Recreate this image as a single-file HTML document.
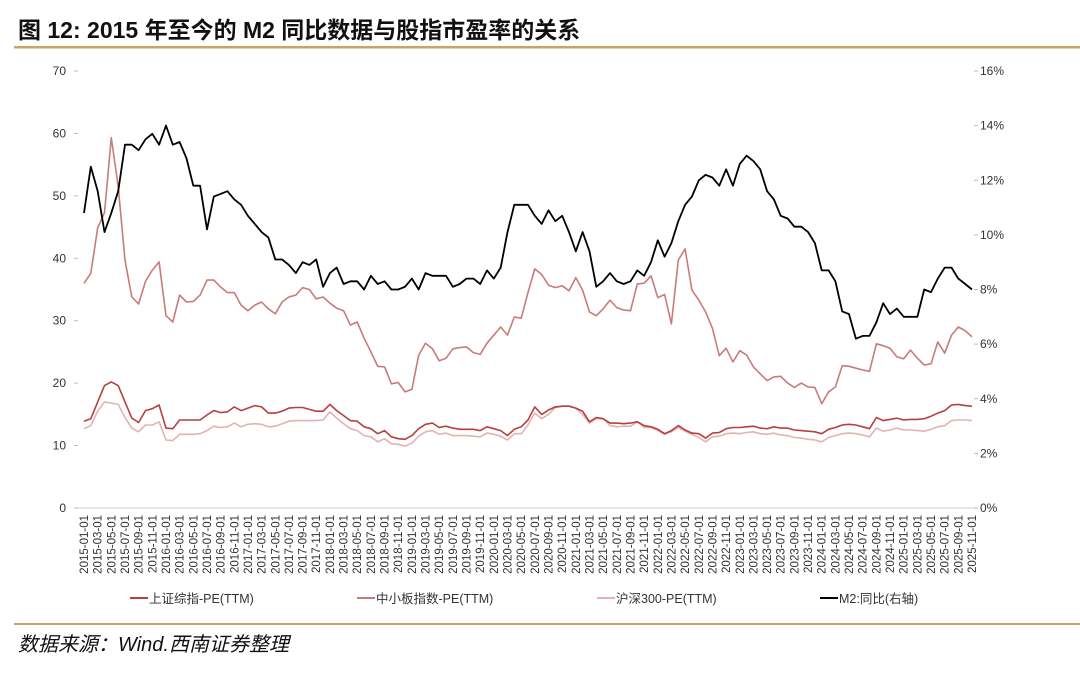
<!DOCTYPE html>
<html><head><meta charset="utf-8"><style>
body{margin:0;background:#fff;width:1080px;height:668px;overflow:hidden;font-family:"Liberation Sans","Noto Sans CJK SC",sans-serif}
</style></head><body>
<svg width="1080" height="668" xmlns="http://www.w3.org/2000/svg">
<text x="18" y="38" font-size="23" font-weight="bold" fill="#111" font-family="Liberation Sans,Noto Sans CJK SC,sans-serif">图 12:  2015 年至今的 M2 同比数据与股指市盈率的关系</text>
<rect x="14" y="46" width="1066" height="2.5" fill="#c9a46a"/>
<rect x="14" y="623" width="1066" height="2" fill="#c9a46a"/>
<text x="18" y="651" font-size="20" font-style="italic" fill="#111" font-family="Liberation Sans,Noto Sans CJK SC,sans-serif">数据来源：Wind.西南证券整理</text>
<g id="axes"></g>
<g id="plot"></g>
<g id="legend"></g>
</svg>
<script>
const categories=[];for(let y=2015;y<=2025;y++)for(let m=1;m<=12;m++){if(y===2025&&m>11)break;categories.push(y+'-'+String(m).padStart(2,'0')+'-01');}
const leftTicks=[0,10,20,30,40,50,60,70];
const rightTicks=[0,2,4,6,8,10,12,14,16];
const m2=[10.8,12.5,11.6,10.1,10.8,11.6,13.3,13.3,13.1,13.5,13.7,13.3,14.0,13.3,13.4,12.8,11.8,11.8,10.2,11.4,11.5,11.6,11.3,11.1,10.7,10.4,10.1,9.9,9.1,9.1,8.9,8.6,9.0,8.9,9.1,8.1,8.6,8.8,8.2,8.3,8.3,8.0,8.5,8.2,8.3,8.0,8.0,8.1,8.4,8.0,8.6,8.5,8.5,8.5,8.1,8.2,8.4,8.4,8.2,8.7,8.4,8.8,10.1,11.1,11.1,11.1,10.7,10.4,10.9,10.5,10.7,10.1,9.4,10.1,9.4,8.1,8.3,8.6,8.3,8.2,8.3,8.7,8.5,9.0,9.8,9.2,9.7,10.5,11.1,11.4,12.0,12.2,12.1,11.8,12.4,11.8,12.6,12.9,12.7,12.4,11.6,11.3,10.7,10.6,10.3,10.3,10.1,9.7,8.7,8.7,8.3,7.2,7.1,6.2,6.3,6.3,6.8,7.5,7.1,7.3,7.0,7.0,7.0,8.0,7.9,8.4,8.8,8.8,8.4,8.2,8.0];
const smePE=[36.0,37.6,44.9,47.3,59.3,51.5,39.7,33.8,32.7,36.3,38.1,39.4,30.8,29.8,34.1,33.0,33.1,34.1,36.5,36.5,35.4,34.5,34.5,32.5,31.6,32.5,33.0,31.9,31.1,33.0,33.8,34.1,35.3,35.0,33.5,33.8,32.8,32.0,31.6,29.3,29.8,27.2,25.0,22.7,22.6,19.9,20.1,18.6,19.0,24.5,26.4,25.5,23.6,24.0,25.5,25.7,25.8,24.9,24.6,26.4,27.7,29.0,27.7,30.6,30.4,34.5,38.3,37.4,35.7,35.3,35.6,34.8,36.9,34.9,31.4,30.8,31.9,33.3,32.1,31.7,31.6,35.9,36.0,37.2,33.7,34.2,29.5,39.7,41.5,34.9,33.3,31.4,28.8,24.4,25.6,23.4,25.2,24.5,22.6,21.5,20.4,21.0,21.1,20.0,19.3,20.0,19.4,19.3,16.7,18.6,19.4,22.8,22.7,22.4,22.1,21.9,26.3,26.0,25.6,24.2,23.9,25.3,24.0,22.9,23.1,26.6,24.8,27.7,29.0,28.4,27.4];
const shPE=[13.9,14.3,17.0,19.6,20.2,19.6,17.0,14.4,13.7,15.6,15.9,16.5,12.8,12.7,14.1,14.1,14.1,14.1,14.9,15.6,15.3,15.4,16.2,15.6,16.0,16.4,16.2,15.2,15.2,15.5,16.0,16.1,16.1,15.8,15.5,15.5,16.6,15.6,14.8,14.0,13.9,13.0,12.7,11.9,12.4,11.4,11.1,11.0,11.6,12.7,13.4,13.6,12.9,13.1,12.8,12.6,12.6,12.6,12.4,13.0,12.7,12.4,11.6,12.6,13.0,14.1,16.2,15.0,15.7,16.2,16.3,16.3,16.0,15.5,13.8,14.5,14.3,13.6,13.6,13.5,13.6,13.8,13.2,13.0,12.6,11.9,12.4,13.2,12.5,12.0,11.9,11.2,12.0,12.1,12.7,12.9,12.9,13.0,13.1,12.8,12.7,13.0,12.8,12.8,12.5,12.4,12.3,12.2,11.9,12.6,12.9,13.3,13.4,13.3,13.0,12.7,14.5,14.0,14.2,14.4,14.1,14.2,14.2,14.3,14.7,15.2,15.6,16.5,16.6,16.4,16.3];
const hs300PE=[12.7,13.2,15.5,17.0,16.8,16.6,14.5,12.8,12.2,13.3,13.3,13.8,10.9,10.8,11.8,11.8,11.8,11.9,12.4,13.1,12.9,13.0,13.6,13.0,13.4,13.5,13.4,13.0,13.1,13.5,13.9,14.0,14.0,14.0,14.0,14.1,15.4,14.4,13.5,12.7,12.4,11.6,11.4,10.6,11.1,10.3,10.2,9.9,10.4,11.5,12.2,12.4,11.8,12.0,11.6,11.6,11.6,11.5,11.4,12.0,11.8,11.5,10.9,11.9,11.9,13.3,15.2,14.3,15.0,16.1,16.3,16.3,16.0,15.0,13.6,14.3,14.3,13.2,13.0,13.1,13.1,13.8,12.9,12.9,12.4,11.8,12.2,12.9,12.3,11.8,11.3,10.6,11.4,11.5,11.9,12.0,11.9,12.1,12.2,11.9,11.8,12.0,11.7,11.6,11.3,11.2,11.0,10.9,10.6,11.3,11.6,11.9,12.0,11.9,11.7,11.4,12.8,12.3,12.5,12.8,12.5,12.5,12.4,12.3,12.6,13.0,13.2,14.0,14.1,14.1,14.0];

const NS='http://www.w3.org/2000/svg';
const X0=84,X1=972,YT=71,YB=508;
const xs=i=>X0+(X1-X0)*i/(categories.length-1);
const yl=v=>YB-(YB-YT)*v/70;
const yr=v=>YB-(YB-YT)*v/16;
function mk(tag,attrs,parent){const e=document.createElementNS(NS,tag);for(const k in attrs)e.setAttribute(k,attrs[k]);parent.appendChild(e);return e;}
const axes=document.getElementById('axes'),plot=document.getElementById('plot'),legend=document.getElementById('legend');
let e=mk('line',{x1:78,x2:978,y1:YB,y2:YB,stroke:'#d0d0d0','stroke-width':1},axes);


leftTicks.forEach(v=>{
 const t=mk('text',{x:66,y:yl(v)+4,'font-size':12,fill:'#333','text-anchor':'end'},axes);t.textContent=v;
 
 
 const k=mk('line',{x1:74,x2:78,y1:yl(v),y2:yl(v),stroke:'#bbb'},axes);
 
 
});
rightTicks.forEach(v=>{
 const t=mk('text',{x:980,y:yr(v)+4,'font-size':12,fill:'#333'},axes);t.textContent=v+'%';
 
 
 const k=mk('line',{x1:974,x2:978,y1:yr(v),y2:yr(v),stroke:'#bbb'},axes);
 
 
});
categories.forEach((c,i)=>{
 if(i%2)return;
 const x=xs(i)+4;
 const t=mk('text',{x:x,y:515,'font-size':11.5,fill:'#333','text-anchor':'end',transform:`rotate(-90 ${x} 515)`},axes);t.textContent=c;
 
 
});
function line(data,yf,color,w,name){
 const p=mk('polyline',{points:data.map((v,i)=>xs(i).toFixed(1)+','+yf(v).toFixed(1)).join(' '),fill:'none',stroke:color,'stroke-width':w,'stroke-linejoin':'round'},plot);
 
 
}
line(hs300PE,yl,'#e3b3b3',1.6,'hs300-pe-line');
line(shPE,yl,'#b5413f',1.6,'sh-composite-pe-line');
line(smePE,yl,'#c97b7a',1.6,'sme-board-pe-line');
line(m2,yr,'#000',1.8,'m2-yoy-line');
const leg=[[130,'#b5413f','上证综指-PE(TTM)'],[357,'#c97b7a','中小板指数-PE(TTM)'],[597,'#e3b3b3','沪深300-PE(TTM)'],[820,'#000','M2:同比(右轴)']];
leg.forEach(l=>{
 const g=mk('g',{},legend);
 
 
 mk('line',{x1:l[0],x2:l[0]+18,y1:598,y2:598,stroke:l[1],'stroke-width':2},g);
 const t=mk('text',{x:l[0]+19,y:603,'font-size':12.5,fill:'#333'},g);t.textContent=l[2];
});
</script>
</body></html>
